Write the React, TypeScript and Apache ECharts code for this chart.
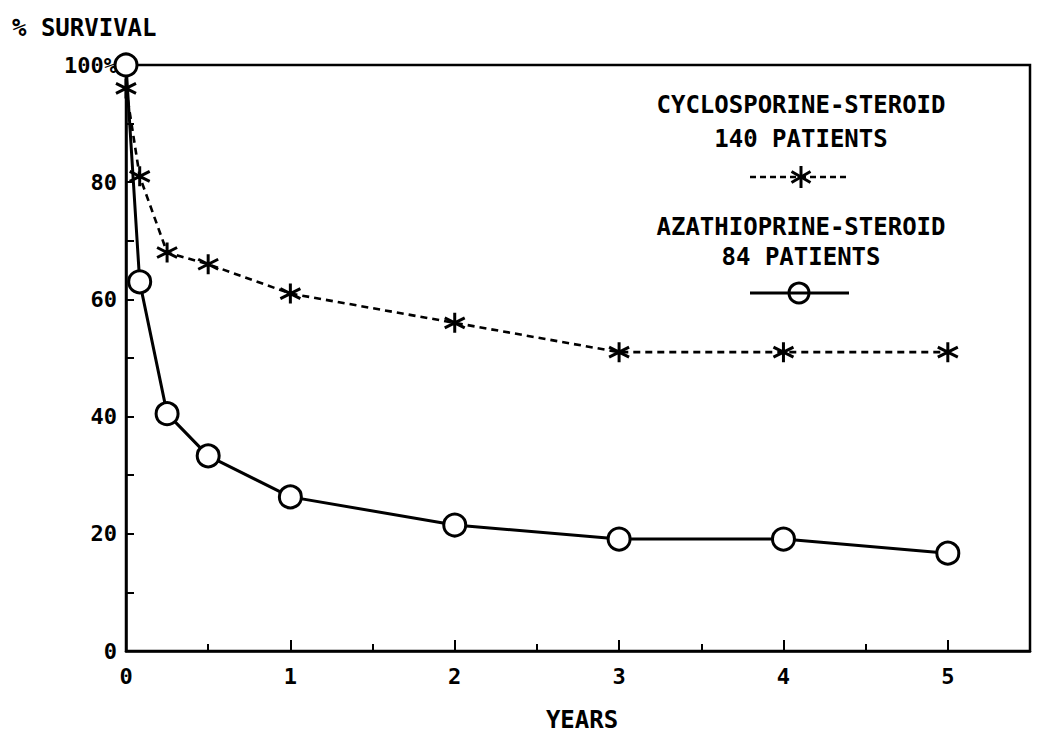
import React, { useEffect, useRef } from 'react';
import * as echarts from 'echarts';

const years = [0, 1 / 12, 0.25, 0.5, 1, 2, 3, 4, 5];
const cyclosporine = [96, 81, 68, 66, 61, 56, 51, 51, 51];
const azathioprine = [100, 63, 40.5, 33.3, 26.3, 21.5, 19.1, 19.1, 16.7];
const xTickLabels = ['0', '1', '2', '3', '4', '5'];
const yTickLabels: Record<number, string> = { 0: '0', 20: '20', 40: '40', 60: '60', 80: '80', 100: '100%' };
const legendCyclo = ['CYCLOSPORINE-STEROID', '140 PATIENTS'];
const legendAza = ['AZATHIOPRINE-STEROID', '84 PATIENTS'];

const FONT = '"DejaVu Sans Mono", monospace';
const STAR = 'path://M10 0 L10 20 M1.34 5 L18.66 15 M1.34 15 L18.66 5';

export default function App() {
  const ref = useRef<HTMLDivElement>(null);
  useEffect(() => {
    document.body.style.margin = '0';
    const chart = echarts.init(ref.current!, null, { renderer: 'svg' });
    const textStyle = { fontFamily: FONT, fontWeight: 'bold' as const, fontSize: 24, fill: '#000' };
    const cx = 801;
    chart.setOption({
      animation: false,
      backgroundColor: '#fff',
      grid: { left: 126, top: 65, right: 20, bottom: 96, show: true, borderColor: '#000', borderWidth: 2.5 },
      xAxis: [
        {
          type: 'value', min: 0, max: 5.5, interval: 1,
          axisLine: { show: true, lineStyle: { color: '#000', width: 2.5 } },
          axisTick: { show: true, inside: true, length: 11, lineStyle: { color: '#000', width: 2 } },
          axisLabel: {
            margin: 14, color: '#000', fontFamily: FONT, fontWeight: 'bold', fontSize: 22,
            formatter: (v: number) => (Number.isInteger(v) && v <= 5 ? xTickLabels[v] : ''),
          },
          splitLine: { show: false },
        },
        {
          type: 'value', min: 0, max: 5.5, interval: 0.5, position: 'bottom',
          axisLine: { show: false },
          axisTick: { show: true, inside: true, length: 7, lineStyle: { color: '#000', width: 2 } },
          axisLabel: { show: false },
          splitLine: { show: false },
        },
      ],
      yAxis: {
        type: 'value', min: 0, max: 100, interval: 10,
        axisLine: { show: true, lineStyle: { color: '#000', width: 2.5 } },
        axisTick: { show: true, inside: true, length: 8, lineStyle: { color: '#000', width: 2 } },
        axisLabel: {
          margin: 9, color: '#000', fontFamily: FONT, fontWeight: 'bold', fontSize: 22,
          formatter: (v: number) => yTickLabels[v] ?? '',
        },
        splitLine: { show: false },
      },
      series: [
        {
          name: 'CYCLOSPORINE-STEROID', type: 'line', clip: false,
          data: years.map((x, i) => [x, cyclosporine[i]]),
          symbol: STAR, symbolSize: [20, 20],
          itemStyle: { color: '#000', borderColor: '#000', borderWidth: 3 },
          lineStyle: { color: '#000', width: 2.6, type: [7, 5] },
        },
        {
          name: 'AZATHIOPRINE-STEROID', type: 'line', clip: false,
          data: years.map((x, i) => [x, azathioprine[i]]),
          symbol: 'circle', symbolSize: 22,
          itemStyle: { color: '#fff', borderColor: '#000', borderWidth: 3 },
          lineStyle: { color: '#000', width: 3 },
        },
      ],
      graphic: [
        { type: 'text', left: 12, top: 16, style: { ...textStyle, text: '% SURVIVAL' } },
        { type: 'text', x: 582, y: 720, style: { ...textStyle, text: 'YEARS', align: 'center', verticalAlign: 'middle' } },
        { type: 'text', x: cx, y: 105, style: { ...textStyle, text: legendCyclo[0], align: 'center', verticalAlign: 'middle' } },
        { type: 'text', x: cx, y: 139, style: { ...textStyle, text: legendCyclo[1], align: 'center', verticalAlign: 'middle' } },
        { type: 'line', shape: { x1: 750, y1: 177, x2: 848, y2: 177 }, style: { stroke: '#000', lineWidth: 2.5, lineDash: [6, 4] } },
        { type: 'line', shape: { x1: cx, y1: 166, x2: cx, y2: 188 }, style: { stroke: '#000', lineWidth: 3 } },
        { type: 'line', shape: { x1: cx - 9.5, y1: 171.5, x2: cx + 9.5, y2: 182.5 }, style: { stroke: '#000', lineWidth: 3 } },
        { type: 'line', shape: { x1: cx - 9.5, y1: 182.5, x2: cx + 9.5, y2: 171.5 }, style: { stroke: '#000', lineWidth: 3 } },
        { type: 'text', x: cx, y: 227, style: { ...textStyle, text: legendAza[0], align: 'center', verticalAlign: 'middle' } },
        { type: 'text', x: cx, y: 257, style: { ...textStyle, text: legendAza[1], align: 'center', verticalAlign: 'middle' } },
        { type: 'line', shape: { x1: 750, y1: 293, x2: 849, y2: 293 }, style: { stroke: '#000', lineWidth: 3 } },
        { type: 'circle', shape: { cx: 799, cy: 293, r: 10 }, style: { fill: 'none', stroke: '#000', lineWidth: 3 } },
      ],
    });
    return () => chart.dispose();
  }, []);
  return <div ref={ref} style={{ width: 1050, height: 747 }} />;
}
